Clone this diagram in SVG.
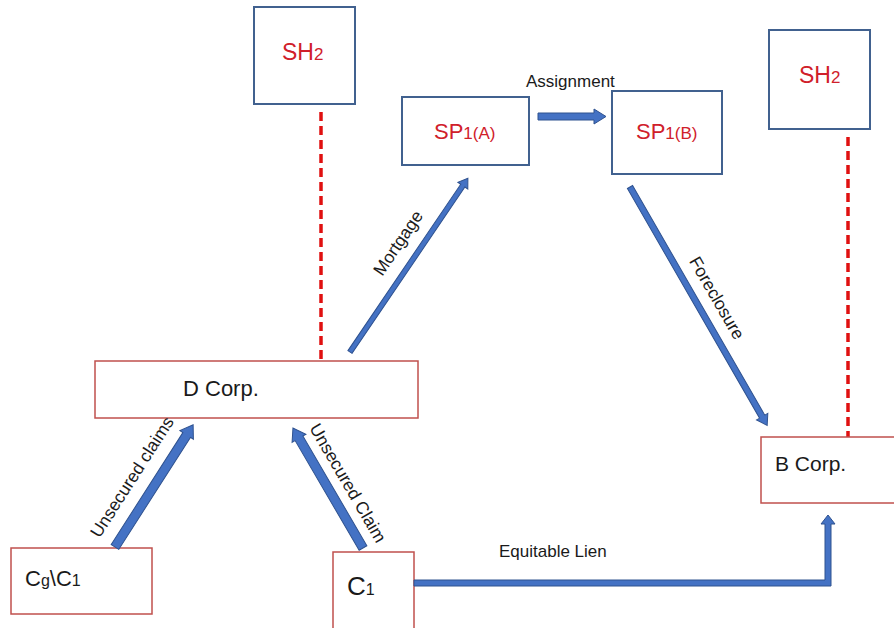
<svg xmlns="http://www.w3.org/2000/svg" width="894" height="628" viewBox="0 0 894 628">
  <style>
    .bluebox { fill: #ffffff; stroke: #41618f; stroke-width: 2; }
    .redbox { fill: #ffffff; stroke: #c0504d; stroke-width: 1.5; }
    .redtxt { fill: #d0202a; font-family: "Liberation Sans", Arial, sans-serif; }
    .blk { fill: #1a1a1a; font-family: "Liberation Sans", Arial, sans-serif; }
    .lbl { fill: #1a1a1a; font-family: "Liberation Sans", Arial, sans-serif; font-size: 17.5px; text-anchor: middle; }
    .arrow { fill: #4472c4; stroke: #2f528f; stroke-width: 1; }
    .dash { stroke: #e01010; stroke-width: 3.5; stroke-dasharray: 9 5; fill: none; }
  </style>
  <rect width="894" height="628" fill="#ffffff"/>

  <!-- shareholder links -->
  <g id="dashes">
    <line class="dash" x1="321" y1="112" x2="321" y2="362"/>
    <line class="dash" x1="848" y1="137" x2="848" y2="437"/>
  </g>

  <g id="sh2-left">
    <rect class="bluebox" x="254" y="7" width="101" height="97"/>
    <text class="redtxt" x="282" y="60" font-size="23">SH<tspan font-size="17">2</tspan></text>
  </g>
  <g id="sh2-right">
    <rect class="bluebox" x="769" y="30" width="101" height="99"/>
    <text class="redtxt" x="799" y="83" font-size="23">SH<tspan font-size="17">2</tspan></text>
  </g>
  <g id="sp1a">
    <rect class="bluebox" x="402" y="97" width="127" height="68"/>
    <text class="redtxt" x="434" y="139" font-size="22">SP<tspan font-size="17">1(A)</tspan></text>
  </g>
  <g id="sp1b">
    <rect class="bluebox" x="612" y="91" width="110" height="83"/>
    <text class="redtxt" x="636" y="139" font-size="22">SP<tspan font-size="17">1(B)</tspan></text>
  </g>
  <g id="dcorp">
    <rect class="redbox" x="95" y="361" width="323" height="57"/>
    <text class="blk" x="183" y="396" font-size="22">D Corp.</text>
  </g>
  <g id="bcorp">
    <rect class="redbox" x="761" y="437" width="140" height="66"/>
    <text class="blk" x="775" y="471" font-size="21">B Corp.</text>
  </g>
  <g id="cg-c1">
    <rect class="redbox" x="11" y="548" width="141" height="66"/>
    <text class="blk" x="25" y="586" font-size="22">C<tspan font-size="16">g</tspan>\C<tspan font-size="16">1</tspan></text>
  </g>
  <g id="c1">
    <rect class="redbox" x="333" y="552" width="81" height="80"/>
    <text class="blk" x="347" y="595" font-size="26">C<tspan font-size="16">1</tspan></text>
  </g>

  <!-- connectors -->
  <g id="connectors">
    <!-- Assignment -->
    <path class="arrow" d="M538,113 L594,113 L594,109 L606,116.5 L594,124 L594,120 L538,120 Z"/>
    <text class="blk" x="526" y="87" font-size="17">Assignment</text>

    <!-- Mortgage -->
    <g transform="translate(350,352) rotate(-55.85)">
      <path class="arrow" d="M0,-2.5 L201,-2.5 L201,-6 L210,0 L201,6 L201,2.5 L0,2.5 Z"/>
    </g>
    <text class="lbl" transform="translate(398,243) rotate(-55.85)" y="6">Mortgage</text>

    <!-- Foreclosure -->
    <g transform="translate(630,187) rotate(60.08)">
      <path class="arrow" d="M0,-3 L265,-3 L265,-6.5 L275,0 L265,6.5 L265,3 L0,3 Z"/>
    </g>
    <text class="lbl" transform="translate(717,298) rotate(60.08)" y="6">Foreclosure</text>

    <!-- Unsecured claims -->
    <g transform="translate(115,547) rotate(-57.4)">
      <path class="arrow" d="M0,-4.5 L133,-4.5 L133,-8 L145,0 L133,8 L133,4.5 L0,4.5 Z"/>
    </g>
    <text class="lbl" transform="translate(132,477) rotate(-57.4)" y="6">Unsecured claims</text>

    <!-- Unsecured Claim -->
    <g transform="translate(363,548) rotate(-120.26)">
      <path class="arrow" d="M0,-4.5 L127,-4.5 L127,-8 L139,0 L127,8 L127,4.5 L0,4.5 Z"/>
    </g>
    <text class="lbl" transform="translate(348,483) rotate(59.74)" y="6">Unsecured Claim</text>

    <!-- Equitable Lien -->
    <path class="arrow" d="M414,580 L825,580 L825,524 L821,524 L828,515 L835,524 L831,524 L831,586 L414,586 Z"/>
    <text class="blk" x="499" y="557" font-size="17">Equitable Lien</text>
  </g>
</svg>
